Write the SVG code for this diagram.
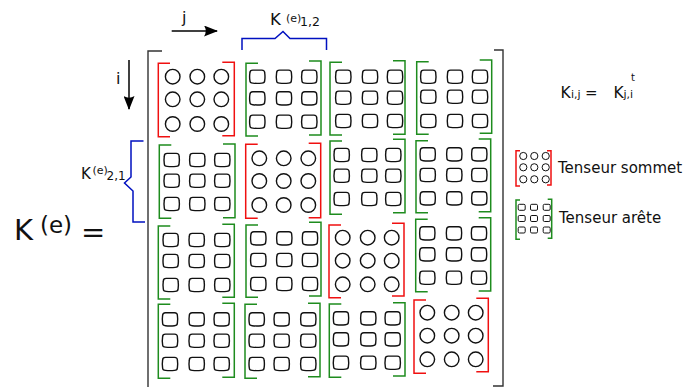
<svg xmlns="http://www.w3.org/2000/svg" xmlns:xlink="http://www.w3.org/1999/xlink" width="688" height="387" viewBox="0 0 688 387">
<style>
.t{font-family:"DejaVu Sans",sans-serif;fill:#111}
.el{fill:none;stroke:#111;stroke-width:1.4}
.els{fill:none;stroke:#111;stroke-width:1}
.r{fill:none;stroke:#f01010;stroke-width:1.5}
.g{fill:none;stroke:#1e8c1e;stroke-width:1.5}
.big{fill:none;stroke:#333;stroke-width:1.4}
.br{fill:none;stroke:#0010c0;stroke-width:1.5}
.ar{fill:none;stroke:#000;stroke-width:1.5}
</style>
<defs>
<circle id="c" class="el" r="7.3"/>
<path id="s" class="el" d="M-4.5,-6.6 H4.5 Q7.4,-6.6 7.4,-3.8 Q8,0 7.4,3.8 Q7.4,6.4 4.5,6.4 Q0,6.9 -4.5,6.4 Q-7.4,6.4 -7.4,3.8 Q-8,0 -7.4,-3.8 Q-7.4,-6.6 -4.5,-6.6 Z"/>
<circle id="cm" class="els" r="3.6"/>
<path id="sm" class="els" d="M-2.2,-3 H2.2 Q3.5,-3 3.5,-1.7 V1.7 Q3.5,3 2.2,3 H-2.2 Q-3.5,3 -3.5,1.7 V-1.7 Q-3.5,-3 -2.2,-3 Z"/>
<marker id="ah" viewBox="0 0 14 11" refX="13" refY="5.5" markerWidth="14" markerHeight="11" orient="auto" markerUnits="userSpaceOnUse">
<path d="M14,5.5 L0,0 Q3.5,5.5 0,11 Z" fill="#000"/>
</marker>
</defs>

<g id="matrix-bracket">
<path class="big" d="M162,51 H148 V387"/>
<path class="big" d="M494,50 H503 V386 H493"/>
</g>

<g id="b11"><path class="r" d="M170,63.3 H158.3 V136.7 H170"/><path class="r" d="M222.3,62.3 H234.3 V135.7 H222.3"/>
<use href="#c" x="172.7" y="76.7"/><use href="#c" x="197.3" y="76.7"/><use href="#c" x="221.3" y="76.7"/>
<use href="#c" x="172.7" y="99.3"/><use href="#c" x="197.3" y="99.3"/><use href="#c" x="221.3" y="99.3"/>
<use href="#c" x="172.7" y="124"/><use href="#c" x="197.3" y="124"/><use href="#c" x="221.3" y="124"/></g>

<g id="b12"><path class="g" d="M258,63.3 H246 V136 H258"/><path class="g" d="M309,61 H321 V135 H309"/>
<use href="#s" x="257.3" y="76.7"/><use href="#s" x="284" y="76.7"/><use href="#s" x="309.3" y="76.7"/>
<use href="#s" x="257.3" y="98.3"/><use href="#s" x="284" y="98.3"/><use href="#s" x="309.3" y="98.3"/>
<use href="#s" x="257.3" y="121.7"/><use href="#s" x="284" y="121.7"/><use href="#s" x="309.3" y="121.7"/></g>

<g id="b13"><path class="g" d="M342,62.3 H330 V135 H342"/><path class="g" d="M393,60.7 H405 V134.3 H393"/>
<use href="#s" x="343.3" y="76.7"/><use href="#s" x="370" y="76.7"/><use href="#s" x="395" y="76.7"/>
<use href="#s" x="343.3" y="97.7"/><use href="#s" x="370" y="97.7"/><use href="#s" x="395" y="97.7"/>
<use href="#s" x="343.3" y="121"/><use href="#s" x="370" y="121"/><use href="#s" x="395" y="121"/></g>

<g id="b14"><path class="g" d="M428.7,61.7 H416.7 V134.3 H428.7"/><path class="g" d="M479.7,60 H491.7 V133.3 H479.7"/>
<use href="#s" x="428.3" y="76.7"/><use href="#s" x="455" y="76.7"/><use href="#s" x="480" y="76.7"/>
<use href="#s" x="428.3" y="96.7"/><use href="#s" x="455" y="96.7"/><use href="#s" x="480" y="96.7"/>
<use href="#s" x="428.3" y="121"/><use href="#s" x="455" y="121"/><use href="#s" x="480" y="121"/></g>

<g id="b21"><path class="g" d="M171.3,145 H159.3 V218.3 H171.3"/><path class="g" d="M223,144 H235 V217.7 H223"/>
<use href="#s" x="171.7" y="160"/><use href="#s" x="197.3" y="160"/><use href="#s" x="222.3" y="160"/>
<use href="#s" x="171.7" y="180.7"/><use href="#s" x="197.3" y="180.7"/><use href="#s" x="222.3" y="180.7"/>
<use href="#s" x="171.7" y="204"/><use href="#s" x="197.3" y="204"/><use href="#s" x="222.3" y="204"/></g>

<g id="b22"><path class="r" d="M257.7,144.3 H245.7 V218.3 H257.7"/><path class="r" d="M308.7,143.3 H320.7 V217.7 H308.7"/>
<use href="#c" x="259.3" y="158.3"/><use href="#c" x="283.7" y="158.3"/><use href="#c" x="308.3" y="158.3"/>
<use href="#c" x="259.3" y="181"/><use href="#c" x="283.7" y="181"/><use href="#c" x="308.3" y="181"/>
<use href="#c" x="259.3" y="205"/><use href="#c" x="283.7" y="205"/><use href="#c" x="308.3" y="205"/></g>

<g id="b23"><path class="g" d="M342,141 H330 V214.3 H342"/><path class="g" d="M393,139.3 H405 V212.7 H393"/>
<use href="#s" x="341.7" y="155"/><use href="#s" x="369.3" y="155"/><use href="#s" x="393.3" y="155"/>
<use href="#s" x="341.7" y="175.7"/><use href="#s" x="369.3" y="175.7"/><use href="#s" x="393.3" y="175.7"/>
<use href="#s" x="341.7" y="199"/><use href="#s" x="369.3" y="199"/><use href="#s" x="393.3" y="199"/></g>

<g id="b24"><path class="g" d="M428,140.7 H416 V212.7 H428"/><path class="g" d="M478.7,139 H490.7 V211.7 H478.7"/>
<use href="#s" x="427.7" y="154.3"/><use href="#s" x="454.3" y="154.3"/><use href="#s" x="479.3" y="154.3"/>
<use href="#s" x="427.7" y="175"/><use href="#s" x="454.3" y="175"/><use href="#s" x="479.3" y="175"/>
<use href="#s" x="427.7" y="198.3"/><use href="#s" x="454.3" y="198.3"/><use href="#s" x="479.3" y="198.3"/></g>

<g id="b31"><path class="g" d="M170.3,226 H158.3 V299 H170.3"/><path class="g" d="M222.3,224.3 H234.3 V297.3 H222.3"/>
<use href="#s" x="170.7" y="240"/><use href="#s" x="196.7" y="240"/><use href="#s" x="222.3" y="240"/>
<use href="#s" x="170.7" y="261"/><use href="#s" x="196.7" y="261"/><use href="#s" x="222.3" y="261"/>
<use href="#s" x="170.7" y="285"/><use href="#s" x="196.7" y="285"/><use href="#s" x="222.3" y="285"/></g>

<g id="b32"><path class="g" d="M258,225 H246 V297.3 H258"/><path class="g" d="M309,222.3 H321 V296 H309"/>
<use href="#s" x="258.3" y="238.3"/><use href="#s" x="284.3" y="238.3"/><use href="#s" x="310" y="238.3"/>
<use href="#s" x="258.3" y="260"/><use href="#s" x="284.3" y="260"/><use href="#s" x="310" y="260"/>
<use href="#s" x="258.3" y="284"/><use href="#s" x="284.3" y="284"/><use href="#s" x="310" y="284"/></g>

<g id="b33"><path class="r" d="M341,225 H329 V297.7 H341"/><path class="r" d="M392,223.3 H404 V296 H392"/>
<use href="#c" x="342.7" y="237.7"/><use href="#c" x="367.7" y="237.7"/><use href="#c" x="391.7" y="237.7"/>
<use href="#c" x="342.7" y="260.7"/><use href="#c" x="367.7" y="260.7"/><use href="#c" x="391.7" y="260.7"/>
<use href="#c" x="342.7" y="284.3"/><use href="#c" x="367.7" y="284.3"/><use href="#c" x="391.7" y="284.3"/></g>

<g id="b34"><path class="g" d="M427.7,219.3 H415.7 V291.7 H427.7"/><path class="g" d="M478.7,217.7 H490.7 V291 H478.7"/>
<use href="#s" x="427.3" y="233.3"/><use href="#s" x="454" y="233.3"/><use href="#s" x="479" y="233.3"/>
<use href="#s" x="427.3" y="254.3"/><use href="#s" x="454" y="254.3"/><use href="#s" x="479" y="254.3"/>
<use href="#s" x="427.3" y="277.7"/><use href="#s" x="454" y="277.7"/><use href="#s" x="479" y="277.7"/></g>

<g id="b41"><path class="g" d="M170.3,304.3 H158.3 V378.3 H170.3"/><path class="g" d="M222.3,303.3 H234.3 V377.3 H222.3"/>
<use href="#s" x="170" y="319.3"/><use href="#s" x="196.7" y="319.3"/><use href="#s" x="221.7" y="319.3"/>
<use href="#s" x="170" y="340.7"/><use href="#s" x="196.7" y="340.7"/><use href="#s" x="221.7" y="340.7"/>
<use href="#s" x="170" y="364"/><use href="#s" x="196.7" y="364"/><use href="#s" x="221.7" y="364"/></g>

<g id="b42"><path class="g" d="M257,304.3 H245 V378.3 H257"/><path class="g" d="M308,303.3 H320 V376.7 H308"/>
<use href="#s" x="256.7" y="319.3"/><use href="#s" x="281.7" y="319.3"/><use href="#s" x="308.3" y="319.3"/>
<use href="#s" x="256.7" y="340.7"/><use href="#s" x="281.7" y="340.7"/><use href="#s" x="308.3" y="340.7"/>
<use href="#s" x="256.7" y="364"/><use href="#s" x="281.7" y="364"/><use href="#s" x="308.3" y="364"/></g>

<g id="b43"><path class="g" d="M341.3,304 H329.3 V377.3 H341.3"/><path class="g" d="M393,302.7 H405 V376 H393"/>
<use href="#s" x="341" y="318.3"/><use href="#s" x="368.3" y="318.3"/><use href="#s" x="392.7" y="318.3"/>
<use href="#s" x="341" y="339.3"/><use href="#s" x="368.3" y="339.3"/><use href="#s" x="392.7" y="339.3"/>
<use href="#s" x="341" y="362.7"/><use href="#s" x="368.3" y="362.7"/><use href="#s" x="392.7" y="362.7"/></g>

<g id="b44"><path class="r" d="M426,300 H414 V373.3 H426"/><path class="r" d="M476.3,298.3 H488.3 V371.7 H476.3"/>
<use href="#c" x="427.3" y="312.7"/><use href="#c" x="451.7" y="312.7"/><use href="#c" x="475.7" y="312.7"/>
<use href="#c" x="427.3" y="335.7"/><use href="#c" x="451.7" y="335.7"/><use href="#c" x="475.7" y="335.7"/>
<use href="#c" x="427.3" y="359.3"/><use href="#c" x="451.7" y="359.3"/><use href="#c" x="475.7" y="359.3"/></g>

<g id="connectors">
<line class="ar" x1="171.7" y1="31" x2="217" y2="31" marker-end="url(#ah)"/>
<line class="ar" x1="129" y1="60" x2="129" y2="109" marker-end="url(#ah)"/>
</g>

<g id="labels">
<text class="t" x="182" y="23" font-size="16">j</text>
<text class="t" x="116" y="84" font-size="16">i</text>
<path class="br" d="M242,50 V38.5 H275 L283,31.5 L290,38.5 H326.5 V50"/>
<text class="t" x="270" y="25" font-size="16.5">K</text>
<text class="t" x="286" y="21.5" font-size="11">(e)</text>
<text class="t" x="300" y="25.5" font-size="12.5">1,2</text>
<path class="br" d="M143.5,141 H131 V177 L124.5,183 L133,191 V222 H145"/>
<text class="t" x="81" y="178.5" font-size="15">K</text>
<text class="t" x="92.5" y="173.5" font-size="11">(e)</text>
<text class="t" x="106.5" y="180" font-size="12">2,1</text>
<text class="t" x="14" y="239.5" font-size="29">K</text>
<text class="t" x="40" y="233" font-size="23">(e)</text>
<text class="t" x="81" y="242" font-size="29">=</text>
<text class="t" x="560.5" y="97.5" font-size="15.5">K</text>
<text class="t" x="571" y="97.5" font-size="11">i,j</text>
<text class="t" x="585" y="97.5" font-size="15">=</text>
<text class="t" x="613.5" y="97.5" font-size="15.5">K</text>
<text class="t" x="623.5" y="97.5" font-size="11">j,i</text>
<text class="t" x="631" y="80.5" font-size="10">t</text>
</g>

<g id="legend-sommet">
<path class="r" d="M520,150.7 H516 V186 H520"/><path class="r" d="M547,150.7 H551 V185 H547"/>
<use href="#cm" x="523.3" y="156"/><use href="#cm" x="534.3" y="156"/><use href="#cm" x="545.7" y="156"/>
<use href="#cm" x="523.3" y="167.3"/><use href="#cm" x="534.3" y="167.3"/><use href="#cm" x="545.7" y="167.3"/>
<use href="#cm" x="523.3" y="179.3"/><use href="#cm" x="534.3" y="179.3"/><use href="#cm" x="545.7" y="179.3"/>
<text class="t" x="558" y="173.3" font-size="15">Tenseur sommet</text>
</g>

<g id="legend-arete">
<path class="g" d="M520,200 H516 V239.3 H520"/><path class="g" d="M547.7,199.3 H551.7 V238.3 H547.7"/>
<use href="#sm" x="521.7" y="207.3"/><use href="#sm" x="534" y="207.3"/><use href="#sm" x="546.7" y="207.3"/>
<use href="#sm" x="521.7" y="218.5"/><use href="#sm" x="534" y="218.5"/><use href="#sm" x="546.7" y="218.5"/>
<use href="#sm" x="521.7" y="230"/><use href="#sm" x="534" y="230"/><use href="#sm" x="546.7" y="230"/>
<text class="t" x="559" y="223.3" font-size="15">Tenseur arête</text>
</g>
</svg>
